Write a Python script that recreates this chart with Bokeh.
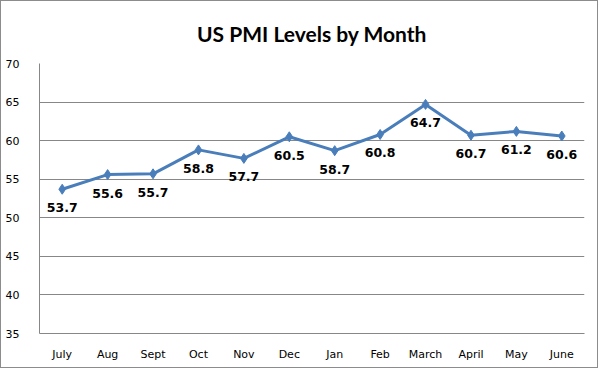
from bokeh.plotting import figure
from bokeh.models import Range1d, ColumnDataSource, FixedTicker, LabelSet
from bokeh.core.properties import value
from bokeh.embed import file_html
from bokeh.resources import INLINE

title_text = "US PMI Levels by Month"
months = ["July", "Aug", "Sept", "Oct", "Nov", "Dec", "Jan", "Feb", "March", "April", "May", "June"]
pmi = [53.7, 55.6, 55.7, 58.8, 57.7, 60.5, 58.7, 60.8, 64.7, 60.7, 61.2, 60.6]
y_ticks = [35, 40, 45, 50, 55, 60, 65, 70]

src = ColumnDataSource(dict(m=months, v=pmi, lab=[f"{x:.1f}" for x in pmi]))

p = figure(x_range=months, y_range=Range1d(35, 70), width=598, height=368,
           output_backend="svg", toolbar_location=None, title=title_text,
           min_border_left=38, min_border_right=15, min_border_bottom=36, min_border_top=0)
p.styles = {"border": "1px solid #8c8c8c"}

p.title.align = "center"
p.title.text_font = "Lato"
p.title.text_font_size = "21px"
p.title.text_font_style = "bold"
p.title.text_color = "#000000"
p.title.standoff = 35

p.line("m", "v", source=src, line_color="#4A7EBB", line_width=3)
p.scatter("m", "v", source=src, marker="diamond", size=10, fill_color="#4A7EBB", line_color="#4A7EBB")

labels = LabelSet(x="m", y="v", text="lab", source=src, text_align="center", text_baseline="top",
                  y_offset=-14, text_font=value("DejaVu Sans"), text_font_size=value("12.5px"),
                  text_font_style=value("bold"), text_color=value("#000000"))
p.add_layout(labels)

p.yaxis.ticker = FixedTicker(ticks=y_ticks)
for ax in (p.xaxis[0], p.yaxis[0]):
    ax.axis_line_color = "#878787"
    ax.axis_line_width = 1
    ax.major_tick_line_color = None
    ax.minor_tick_line_color = None
    ax.major_label_text_font = "DejaVu Sans"
    ax.major_label_text_font_size = "11px"
    ax.major_label_text_color = "#000000"
p.xaxis.major_label_standoff = 8
p.yaxis.major_label_standoff = 14

p.xgrid.grid_line_color = None
p.ygrid.grid_line_color = "#878787"
p.ygrid.grid_line_width = 1
p.outline_line_color = None
p.background_fill_color = "white"
p.border_fill_color = "white"

open("out.html", "w").write(file_html(p, INLINE))
